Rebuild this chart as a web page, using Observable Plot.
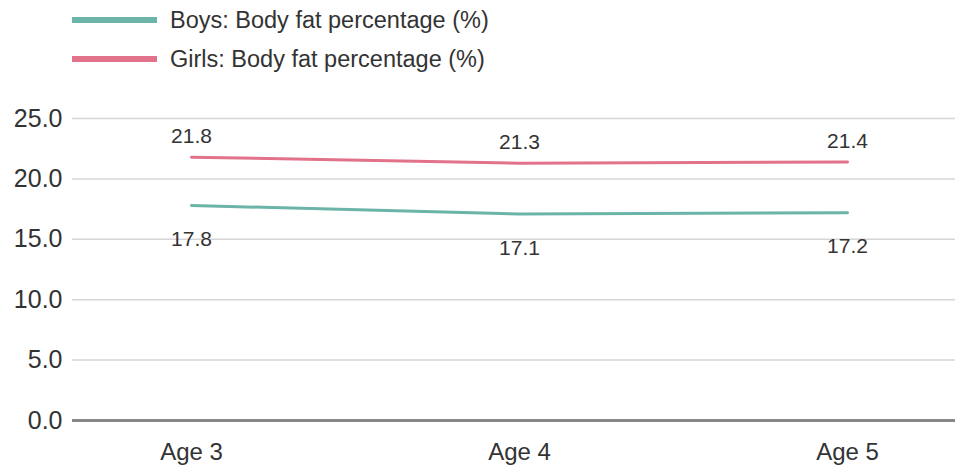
<!DOCTYPE html>
<html><head><meta charset="utf-8">
<script src="https://cdn.jsdelivr.net/npm/d3@7"></script>
<script src="https://cdn.jsdelivr.net/npm/@observablehq/plot@0.6"></script>
<style>
body{margin:0;background:#fff;font-family:"Liberation Sans",Arial,sans-serif;}
#legend{position:relative;height:80px;width:955px;}
.item{position:absolute;left:72px;display:flex;align-items:center;font-size:23.5px;color:#333;line-height:28px;}
.sw{width:85px;height:6px;margin-right:13px;}
</style></head>
<body>
<div id="legend"></div>
<div id="chart"></div>
<script>
const categories = ["Age 3", "Age 4", "Age 5"];
const boys = [17.8, 17.1, 17.2];
const girls = [21.8, 21.3, 21.4];
const seriesNames = ["Boys: Body fat percentage (%)", "Girls: Body fat percentage (%)"];
const colors = ["#6bb4a7", "#e2718a"];
const yTicks = [0, 5, 10, 15, 20, 25];

const data = [];
categories.forEach((c, i) => {
  data.push({cat: c, value: boys[i], series: seriesNames[0]});
  data.push({cat: c, value: girls[i], series: seriesNames[1]});
});

const legend = document.getElementById("legend");
seriesNames.forEach((s, i) => {
  const d = document.createElement("div");
  d.className = "item";
  d.style.top = (i === 0 ? 6 : 45) + "px";
  d.innerHTML = `<span class="sw" style="background:${colors[i]}"></span><span>${s}</span>`;
  legend.appendChild(d);
});

const plot = Plot.plot({
  width: 955,
  height: 386,
  marginLeft: 72,
  marginRight: 0,
  marginTop: 38,
  marginBottom: 46,
  style: {fontFamily: "Liberation Sans, Arial, sans-serif", color: "#333", background: "#fff"},
  x: {type: "point", domain: categories, range: [190, 847], padding: 0, label: null},
  y: {domain: [0, 25], ticks: yTicks, label: null},
  color: {domain: seriesNames, range: colors},
  marks: [
    Plot.ruleY(yTicks.filter(t => t > 0), {stroke: "#d6d6d6", strokeWidth: 1.5}),
    Plot.ruleY([0], {stroke: "#888", strokeWidth: 3}),
    Plot.axisY({ticks: yTicks, tickFormat: d => d.toFixed(1), tickSize: 0, tickPadding: 10, fontSize: 25, anchor: "left", fill: "#333"}),
    Plot.axisX({tickSize: 0, tickPadding: 22, fontSize: 24, fill: "#333"}),
    Plot.line(data, {x: "cat", y: "value", z: "series", stroke: "series", strokeWidth: 3}),
    Plot.text(data.filter(d => d.series === seriesNames[1]), {x: "cat", y: "value", text: d => d.value.toFixed(1), dy: -21, fontSize: 21, fill: "#333"}),
    Plot.text(data.filter(d => d.series === seriesNames[0]), {x: "cat", y: "value", text: d => d.value.toFixed(1), dy: 34, fontSize: 21, fill: "#333"})
  ]
});
document.getElementById("chart").appendChild(plot);
</script>
</body></html>
